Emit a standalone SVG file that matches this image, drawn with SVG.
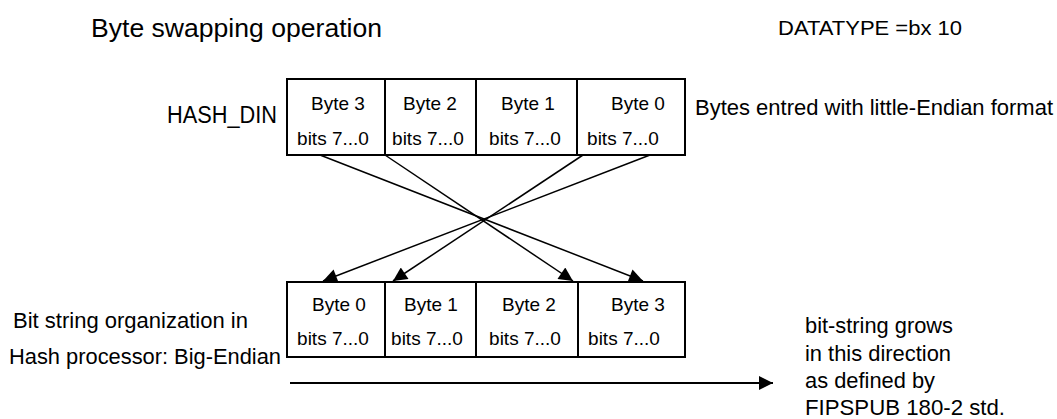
<svg xmlns="http://www.w3.org/2000/svg" width="1057" height="419" viewBox="0 0 1057 419">
<defs>
<style>
text{font-family:"Liberation Sans",Arial,sans-serif;fill:#000}
.c{font-size:19px;text-anchor:middle}
.l{font-size:22px}
.box rect,.box line,.cn line{stroke:#000;stroke-width:2;fill:#fff}
.cn line{stroke-width:1.5}
</style>
<marker id="ah" viewBox="0 0 10 10" refX="10" refY="5" markerWidth="16" markerHeight="14" markerUnits="userSpaceOnUse" orient="auto"><path d="M0,0L10,5L0,10z" fill="#000"/></marker>
</defs>
<rect width="1057" height="419" fill="#fff"/>
<text x="91" y="37" font-size="26" textLength="291" lengthAdjust="spacingAndGlyphs">Byte swapping operation</text>
<text x="778" y="35" font-size="21" textLength="184" lengthAdjust="spacingAndGlyphs">DATATYPE =bx 10</text>
<text x="167" y="123" font-size="23" textLength="110" lengthAdjust="spacingAndGlyphs">HASH_DIN</text>
<text x="695" y="115" class="l" textLength="358" lengthAdjust="spacingAndGlyphs">Bytes entred with little-Endian format</text>
<text x="13" y="328" class="l" textLength="235" lengthAdjust="spacingAndGlyphs">Bit string organization in</text>
<text x="9" y="364" class="l" textLength="272" lengthAdjust="spacingAndGlyphs">Hash processor: Big-Endian</text>
<text x="805" y="333" class="l" textLength="148" lengthAdjust="spacingAndGlyphs">bit-string grows</text>
<text x="805" y="361" class="l" textLength="146" lengthAdjust="spacingAndGlyphs">in this direction</text>
<text x="805" y="388" class="l" textLength="130" lengthAdjust="spacingAndGlyphs">as defined by</text>
<text x="805" y="415" class="l" textLength="200" lengthAdjust="spacingAndGlyphs">FIPSPUB  180-2 std.</text>
<g id="top" class="box">
<rect x="287" y="79" width="398" height="76"/>
<line x1="385" y1="79" x2="385" y2="155"/><line x1="476" y1="79" x2="476" y2="155"/><line x1="577" y1="79" x2="577" y2="155"/>
<text class="c" x="338" y="110">Byte 3</text><text class="c" x="430" y="110">Byte 2</text><text class="c" x="528" y="110">Byte 1</text><text class="c" x="638" y="110">Byte 0</text>
<text class="c" x="333" y="145">bits 7...0</text><text class="c" x="428" y="145">bits 7...0</text><text class="c" x="525" y="145">bits 7...0</text><text class="c" x="623" y="145">bits 7...0</text>
</g>
<g id="bottom" class="box">
<rect x="287" y="282" width="398" height="75"/>
<line x1="385" y1="282" x2="385" y2="357"/><line x1="476" y1="282" x2="476" y2="357"/><line x1="578" y1="282" x2="578" y2="357"/>
<text class="c" x="339" y="311">Byte 0</text><text class="c" x="431" y="311">Byte 1</text><text class="c" x="529" y="311">Byte 2</text><text class="c" x="638" y="311">Byte 3</text>
<text class="c" x="333" y="345">bits 7...0</text><text class="c" x="427" y="345">bits 7...0</text><text class="c" x="525" y="345">bits 7...0</text><text class="c" x="624" y="345">bits 7...0</text>
</g>
<g id="connectors" class="cn">
<line x1="320" y1="155" x2="643" y2="281" marker-end="url(#ah)"/>
<line x1="385" y1="155" x2="573" y2="281" marker-end="url(#ah)"/>
<line x1="583" y1="155" x2="393" y2="281" marker-end="url(#ah)"/>
<line x1="650" y1="155" x2="323" y2="281" marker-end="url(#ah)"/>
<line x1="290" y1="383" x2="773" y2="383" marker-end="url(#ah)" style="stroke-width:2"/>
</g>
</svg>
